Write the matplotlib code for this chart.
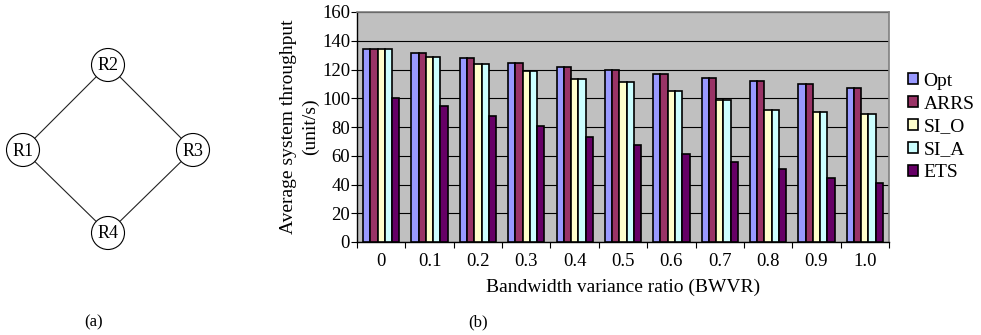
import matplotlib
matplotlib.use("Agg")
import matplotlib.pyplot as plt
import numpy as np
from matplotlib.patches import Circle
from matplotlib.ticker import FixedLocator

plt.rcParams['font.family'] = ['Liberation Serif', 'DejaVu Serif']

categories = ["0", "0.1", "0.2", "0.3", "0.4", "0.5", "0.6", "0.7", "0.8", "0.9", "1.0"]
series_names = ["Opt", "ARRS", "SI_O", "SI_A", "ETS"]
opt  = [134, 131.5, 128, 124.5, 121.5, 120, 116.6, 114, 112, 110, 107.4]
arrs = [134, 131.5, 128, 124.5, 121.5, 120, 116.6, 114, 112, 110, 107.4]
si_o = [134, 128.5, 124, 119.2, 113.4, 111, 105, 98.8, 92, 90.2, 88.8]
si_a = [134, 128.5, 124, 119.2, 113.4, 111, 105, 98.8, 92, 90.2, 88.8]
ets  = [100.4, 94.4, 87.4, 80.7, 73.3, 67.2, 61, 55.4, 50.5, 44.5, 40.8]
colors = ["#9999FF", "#993366", "#FFFFCC", "#CCFFFF", "#660066"]
yticks = [0, 20, 40, 60, 80, 100, 120, 140, 160]

nodes = ["R1", "R2", "R3", "R4"]
edges = [("R1", "R2"), ("R2", "R3"), ("R3", "R4"), ("R4", "R1")]

W, H = 981, 335
fig = plt.figure(figsize=(W/100, H/100), dpi=100)

# ---- diagram (a) in pixel coordinates ----
bg = fig.add_axes([0, 0, 1, 1])
bg.set_xlim(0, W)
bg.set_ylim(H, 0)
bg.axis("off")
pos = {"R1": (23, 150), "R2": (108, 65), "R3": (193, 150), "R4": (108, 233)}
r = 16.5
for a, b in edges:
    (x1, y1), (x2, y2) = pos[a], pos[b]
    d = np.hypot(x2 - x1, y2 - y1)
    ux, uy = (x2 - x1) / d, (y2 - y1) / d
    bg.plot([x1 + ux*r, x2 - ux*r], [y1 + uy*r, y2 - uy*r], color="#222222", lw=0.8)
for n in nodes:
    x, y = pos[n]
    bg.add_patch(Circle((x, y), r, facecolor="white", edgecolor="black", lw=0.8))
    bg.text(x, y + 1, n, ha="center", va="center", fontsize=13)
bg.text(94, 322, "(a)", ha="center", va="center", fontsize=12)
bg.text(478, 322, "(b)", ha="center", va="center", fontsize=12)

# ---- bar chart (b) ----
left, right, top, bottom = 357, 889, 12, 242
ax = fig.add_axes([left/W, 1 - bottom/H, (right-left)/W, (bottom-top)/H])
ax.set_facecolor("#C0C0C0")
x = np.arange(len(categories))
bw = 0.15
data = [opt, arrs, si_o, si_a, ets]
for i, (vals, c, name) in enumerate(zip(data, colors, series_names)):
    ax.bar(x + (i - 2) * bw, vals, width=bw, color=c, edgecolor="black",
           linewidth=1.2, label=name, zorder=3)
ax.set_xlim(-0.5, len(categories) - 0.5)
ax.set_ylim(0, 160)
ax.set_yticks(yticks)
ax.yaxis.grid(True, color="black", lw=0.8, zorder=1)
ax.set_axisbelow(True)
ax.set_xticks(x)
ax.set_xticklabels(categories)
ax.tick_params(axis="x", which="major", length=0, labelsize=13.5, pad=8)
ax.xaxis.set_minor_locator(FixedLocator(np.arange(-0.5, len(categories), 1)))
ax.tick_params(axis="x", which="minor", length=4, direction="out", width=0.8)
ax.tick_params(axis="y", labelsize=13.5, length=4, width=0.8, pad=1)
for s in ["top", "right"]:
    ax.spines[s].set_color("#808080")
    ax.spines[s].set_linewidth(1.2)
for s in ["left", "bottom"]:
    ax.spines[s].set_color("black")
    ax.spines[s].set_linewidth(1.0)
ax.set_xlabel("Bandwidth variance ratio (BWVR)", fontsize=14, labelpad=6)
ax.set_ylabel("Average system throughput\n(unit/s)", fontsize=14, labelpad=2,
              linespacing=1.35)
leg = ax.legend(loc="center left", bbox_to_anchor=(1.036, 0.5), frameon=False,
                fontsize=14, handlelength=0.5, handleheight=0.5, handletextpad=0.3,
                labelspacing=0.3, borderaxespad=0, borderpad=0)

fig.savefig("out.png", dpi=100)
